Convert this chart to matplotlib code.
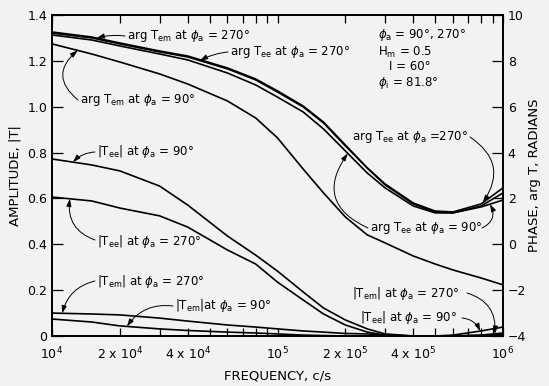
import numpy as np
import matplotlib
matplotlib.use('Agg')
import matplotlib.pyplot as plt
from matplotlib.ticker import FixedLocator, NullFormatter

# Frequency grid (c/s) shared by all curves
freq = [1e4, 1.5e4, 2e4, 3e4, 4e4, 6e4, 8e4, 1e5, 1.3e5, 1.6e5, 2e5,
        2.5e5, 3e5, 4e5, 5e5, 6e5, 8e5, 1e6]

# Amplitudes |T|
tee_amp_90 = [0.772, 0.746, 0.720, 0.654, 0.571, 0.436, 0.353, 0.283, 0.192,
              0.122, 0.070, 0.031, 0.009, 0.0, 0.0, 0.004, 0.022, 0.039]
tee_amp_270 = [0.606, 0.589, 0.558, 0.524, 0.475, 0.375, 0.314, 0.235, 0.157,
               0.096, 0.048, 0.017, 0.004, 0.0, 0.0, 0.0, 0.003, 0.006]
tem_amp_270 = [0.100, 0.096, 0.092, 0.078, 0.065, 0.048, 0.039, 0.031, 0.022,
               0.017, 0.011, 0.009, 0.004, 0.0, 0.0, 0.0, 0.004, 0.013]
tem_amp_90 = [0.074, 0.061, 0.044, 0.031, 0.024, 0.017, 0.013, 0.009, 0.004,
              0.002, 0.0, 0.0, 0.0, 0.0, 0.0, 0.0, 0.0, 0.0]

# Phases arg T (radians)
tem_arg_270 = [9.26, 9.04, 8.78, 8.43, 8.21, 7.69, 7.21, 6.69, 6.03, 5.33,
               4.33, 3.33, 2.59, 1.76, 1.41, 1.37, 1.67, 2.24]
tee_arg_270 = [9.21, 9.00, 8.74, 8.39, 8.17, 7.65, 7.17, 6.64, 5.99, 5.29,
               4.29, 3.33, 2.63, 1.80, 1.45, 1.41, 1.76, 2.46]
tee_arg_90 = [9.13, 8.91, 8.65, 8.30, 8.04, 7.47, 6.95, 6.42, 5.77, 5.03,
              4.07, 3.11, 2.46, 1.67, 1.37, 1.37, 1.63, 1.93]
tem_arg_90 = [8.74, 8.30, 7.95, 7.43, 6.99, 6.25, 5.51, 4.64, 3.28, 2.24,
              1.19, 0.41, 0.06, -0.51, -0.86, -1.12, -1.47, -1.77]

xticks = [1e4, 2e4, 4e4, 1e5, 2e5, 4e5, 1e6]
xticklabels = ['10$^4$', '2 x 10$^4$', '4 x 10$^4$', '10$^5$',
               '2 x 10$^5$', '4 x 10$^5$', '10$^6$']

bg = '#f2f2f2'
plt.rcParams['font.family'] = ['DejaVu Sans']
plt.rcParams['mathtext.fontset'] = 'dejavusans'

fig = plt.figure(figsize=(5.49, 3.86), dpi=100, facecolor=bg)
ax = fig.add_axes([52 / 549, 1 - 336 / 386, 451 / 549, 321 / 386])
ax.set_facecolor(bg)
ax2 = ax.twinx()

lw = 1.2
for amp in [tee_amp_90, tee_amp_270, tem_amp_270, tem_amp_90]:
    ax.plot(freq, amp, color='black', lw=lw)
for ph in [tem_arg_270, tee_arg_270, tee_arg_90, tem_arg_90]:
    ax2.plot(freq, ph, color='black', lw=lw)

ax.set_xscale('log')
ax.set_xlim(1e4, 1e6)
ax.set_ylim(0, 1.4)
ax2.set_ylim(-4, 10)

ax.xaxis.set_major_locator(FixedLocator(xticks))
ax.set_xticklabels(xticklabels)
minor = [m * 10 ** e for e in (4, 5) for m in range(2, 10) if m not in (2, 4)]
ax.xaxis.set_minor_locator(FixedLocator(minor))
ax.xaxis.set_minor_formatter(NullFormatter())
ax.set_yticks(np.arange(0, 1.41, 0.2))
ax.set_yticklabels(['0', '0.2', '0.4', '0.6', '0.8', '1.0', '1.2', '1.4'])
ax2.set_yticks(range(-4, 11, 2))

ax.tick_params(axis='x', which='both', direction='in', top=True, length=6,
               width=0.9, labelsize=9, pad=7)
ax.tick_params(axis='y', direction='in', length=8, width=0.9, labelsize=9)
ax2.tick_params(axis='y', direction='in', length=8, width=0.9, labelsize=9)
for a in (ax, ax2):
    for s in a.spines.values():
        s.set_linewidth(1.3)

ax.set_xlabel('FREQUENCY, c/s', fontsize=9.5)
ax.xaxis.set_label_coords(0.5, -0.105)
ax.set_ylabel('AMPLITUDE, |T|', fontsize=9.5)
ax.yaxis.set_label_coords(-0.067, 0.5)
ax2.set_ylabel('PHASE, arg T, RADIANS', fontsize=9.5)
ax2.yaxis.set_label_coords(1.055, 0.5)


def on_curve(f, values):
    return f, np.interp(np.log10(f), np.log10(freq), values)


def label(axis, text, xy_px, f, values, start_px=None, rad=0.0):
    # text position given in figure pixels measured from the top
    x, y = xy_px
    axis.text(x, 386 - y, text, transform=None, fontsize=8.5,
              va='center', ha='left')
    sx, sy = start_px if start_px else (x - 2, y)
    axis.annotate('', xy=on_curve(f, values), xytext=(sx, 386 - sy),
                  textcoords='figure pixels',
                  arrowprops=dict(arrowstyle='-|>,head_length=0.45,head_width=0.15',
                                  color='black', lw=0.7, shrinkA=0, shrinkB=0,
                                  connectionstyle=f'arc3,rad={rad}'))


phi = r'$\phi_{\rm a}$'
label(ax2, r'arg T$_{\rm em}$ at ' + phi + ' = 270°', (127, 36),
      1.58e4, tem_arg_270, rad=0.1)
label(ax2, r'arg T$_{\rm ee}$ at ' + phi + ' = 270°', (230, 52),
      4.53e4, tee_arg_270, rad=0.1)
label(ax2, r'arg T$_{\rm em}$ at ' + phi + ' = 90°', (80, 100),
      1.30e4, tem_arg_90, start_px=(78, 100), rad=-0.6)
label(ax, r'|T$_{\rm ee}$| at ' + phi + ' = 90°', (97, 152),
      1.24e4, tee_amp_90, rad=0.2)
label(ax, r'|T$_{\rm ee}$| at ' + phi + ' = 270°', (97, 242),
      1.20e4, tee_amp_270, start_px=(95, 240), rad=-0.4)
label(ax, r'|T$_{\rm em}$| at ' + phi + ' = 270°', (97, 281),
      1.11e4, tem_amp_270, rad=0.3)
label(ax, r'|T$_{\rm em}$|at ' + phi + ' = 90°', (175, 306),
      2.15e4, tem_amp_90, rad=0.3)
label(ax2, r'arg T$_{\rm ee}$ at ' + phi + ' =270°', (352, 137),
      8.14e5, tee_arg_270, start_px=(470, 137), rad=-0.5)
label(ax2, r'arg T$_{\rm ee}$ at ' + phi + ' = 90°', (370, 228),
      2.05e5, tee_arg_90, start_px=(368, 228), rad=-0.6)
ax2.annotate('', xy=on_curve(8.76e5, tee_arg_90), xytext=(482, 386 - 228),
             textcoords='figure pixels',
             arrowprops=dict(arrowstyle='-|>,head_length=0.45,head_width=0.15',
                             color='black', lw=0.7, shrinkA=0, shrinkB=0,
                             connectionstyle='arc3,rad=0.5'))
label(ax, r'|T$_{\rm em}$| at ' + phi + ' = 270°', (352, 293),
      9.2e5, tem_amp_270, start_px=(467, 293), rad=-0.4)
label(ax, r'|T$_{\rm ee}$| at ' + phi + ' = 90°', (360, 318),
      7.91e5, tee_amp_90, start_px=(462, 318), rad=-0.3)

# case parameters
params = [(378, 35, phi + ' = 90°, 270°'),
          (378, 52, r'H$_{\rm m}$ = 0.5'),
          (389, 67, 'I = 60°'),
          (378, 83, r'$\phi_{\rm i}$ = 81.8°')]
for x, y, s in params:
    fig.text(x / 549, 1 - y / 386, s, fontsize=8.5, va='center', ha='left')

fig.savefig('out.png', dpi=100, facecolor=bg)
